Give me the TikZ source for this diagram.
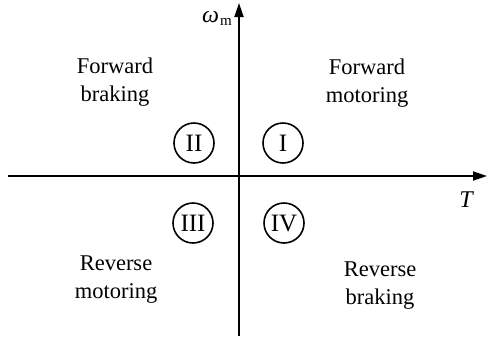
\documentclass[tikz,border=0pt]{standalone}
\usepackage{fontspec}
\setmainfont{Liberation Serif}
\usetikzlibrary{arrows.meta}
\begin{document}
\begin{tikzpicture}[x=1pt,y=-1pt,
  axis/.style={line width=1.8pt,-{Triangle[length=14pt,width=9pt]}},
  quad/.style={circle,draw,line width=1.6pt,minimum size=40pt,inner sep=0pt,font=\fontsize{25}{25}\selectfont},
  lbl/.style={align=center,font=\fontsize{22.5}{28}\selectfont}]
\useasboundingbox (0,0) rectangle (489,341);
\coordinate (ybot) at (239,336);
\coordinate (ytop) at (239,3);
\coordinate (xl) at (8,176);
\coordinate (xr) at (487,176);
\draw[axis] (ybot) -- (ytop);
\draw[axis] (xl) -- (xr);
\node[anchor=east,font=\fontsize{24}{24}\selectfont,inner sep=1pt] (wm) at (233,18) {\itshape ω\kern1pt\raisebox{-0.25ex}{\upshape\fontsize{15}{15}\selectfont m}};
\node[font=\fontsize{24}{24}\selectfont\itshape] (T) at (466,200) {T};
\node[quad] (q2) at (194,143) {II};
\node[quad] (q1) at (283,143) {I};
\node[quad] (q3) at (193,223) {III};
\node[quad] (q4) at (284,223) {IV};
\node[lbl] (fb) at (115,82) {Forward\\braking};
\node[lbl] (fm) at (367,83) {Forward\\motoring};
\node[lbl] (rm) at (116,280) {Reverse\\motoring};
\node[lbl] (rb) at (380,286) {Reverse\\braking};
\end{tikzpicture}
\end{document}
